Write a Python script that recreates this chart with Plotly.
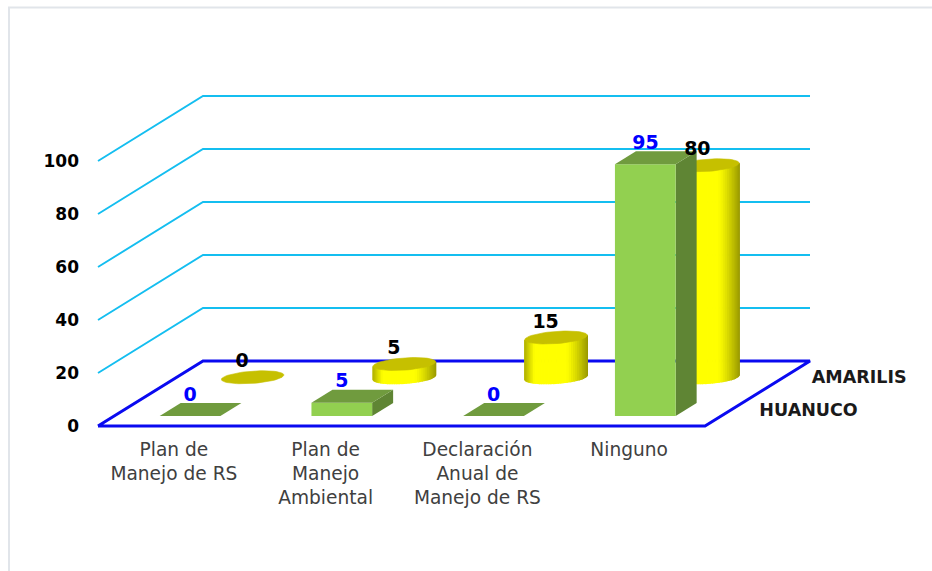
import math
import plotly.graph_objects as go

# ---- data ----
CATEGORIES = ["Plan de<br>Manejo de RS", "Plan de<br>Manejo<br>Ambiental",
              "Declaración<br>Anual de<br>Manejo de RS", "Ninguno"]
SERIES_NAMES = ["HUANUCO", "AMARILIS"]
HUANUCO = [0, 5, 0, 95]
AMARILIS = [0, 5, 15, 80]
TICKS = [0, 20, 40, 60, 80, 100]

# ---- oblique projection: category, depth (0 front..1 back), value -> axis units ----
W, H = 932, 571
PX_CAT = 151.75      # pixels per category
PX_VAL = 2.65        # pixels per value unit
SHEAR_X = 105 / PX_CAT
SHEAR_Y = 65 / PX_VAL
X0, Y0 = 98, 426     # pixel of (-0.5, 0, 0)


def proj(c, d, v):
    return c + d * SHEAR_X, v + d * SHEAR_Y


fig = go.Figure()


def poly(points, color, lw=0.0):
    xs = [p[0] for p in points] + [points[0][0]]
    ys = [p[1] for p in points] + [points[0][1]]
    fig.add_trace(go.Scatter(x=xs, y=ys, mode="lines", fill="toself", fillcolor=color,
                             line=dict(color=color, width=lw), hoverinfo="skip", showlegend=False))


def path(points, color, lw):
    fig.add_trace(go.Scatter(x=[p[0] for p in points], y=[p[1] for p in points], mode="lines",
                             line=dict(color=color, width=lw), hoverinfo="skip", showlegend=False))


# walls
for t in TICKS[1:]:
    path([proj(-0.5, 0, t), proj(-0.5, 1, t), proj(3.5, 1, t)], "#14BEF0", 1.9)
# floor
path([proj(-0.5, 0, 0), proj(-0.5, 1, 0), proj(3.5, 1, 0), proj(3.5, 0, 0), proj(-0.5, 0, 0)], "#0A0AF0", 3)

# cylinders (back row)
R_C, R_D = 0.194, 0.1
D_CYL = 0.75
N = 40


def yellow(u):
    if u < 0.14:
        k = 0.72 + 0.28 * (u / 0.14)
    elif u > 0.66:
        k = 1 - 0.40 * ((u - 0.66) / 0.34) ** 1.2
    else:
        k = 1
    return f"rgb({int(255 * k)},{int(255 * k)},0)"


for i, val in enumerate(AMARILIS):
    def rim(t, v):
        return proj(i + R_C * math.cos(t), D_CYL + R_D * math.sin(t), v)
    t_r = math.atan2(R_D * SHEAR_X, R_C)
    if val > 0:
        x_min = rim(t_r - math.pi, 0)[0]
        x_max = rim(t_r, 0)[0]
        for k in range(N):
            t1 = t_r - math.pi * k / N
            t2 = t_r - math.pi * (k + 1) / N
            u = ((rim(t1, 0)[0] + rim(t2, 0)[0]) / 2 - x_min) / (x_max - x_min)
            poly([rim(t1, 0), rim(t2, 0), rim(t2, val), rim(t1, val)], yellow(u), 1.2)
    poly([rim(2 * math.pi * k / 60, val) for k in range(60)], "#C6C000", 0.6)

# bars (front row)
BAR_C = 0.2
D0, D1 = 0.154, 0.354
for i, val in enumerate(HUANUCO):
    l, r = i - BAR_C, i + BAR_C
    if val > 0:
        poly([proj(r, D0, 0), proj(r, D1, 0), proj(r, D1, val), proj(r, D0, val)], "#5F8534")
        poly([proj(l, D0, 0), proj(r, D0, 0), proj(r, D0, val), proj(l, D0, val)], "#92D050")
    poly([proj(l, D0, val), proj(r, D0, val), proj(r, D1, val), proj(l, D1, val)], "#709B3E")

# value labels
for values, depth, lift, color in ((AMARILIS, 0.65, 8.0, "#000000"), (HUANUCO, 0.155, 7.6, "#0000FF")):
    pts = [proj(i, depth, v + lift) for i, v in enumerate(values)]
    fig.add_trace(go.Scatter(x=[p[0] for p in pts], y=[p[1] for p in pts], mode="text",
                             text=[str(v) for v in values], textposition="middle center",
                             textfont=dict(family="DejaVu Sans", size=19, color=color, weight="bold"),
                             hoverinfo="skip", showlegend=False))

# depth axis labels
for name, depth, drop in zip(SERIES_NAMES, (0.25, 0.75), (0.8, 0.4)):
    p = proj(3.685, depth, -drop)
    fig.add_trace(go.Scatter(x=[p[0]], y=[p[1]], mode="text", text=[name], textposition="middle right",
                             textfont=dict(family="DejaVu Sans", size=17.5, color="#1a1a1a", weight="bold"),
                             hoverinfo="skip", showlegend=False))

fig.update_layout(
    width=W, height=H, margin=dict(l=0, r=0, t=0, b=0),
    paper_bgcolor="white", plot_bgcolor="white", showlegend=False,
    xaxis=dict(range=[-0.5 - X0 / PX_CAT, -0.5 + (W - X0) / PX_CAT], showgrid=False, zeroline=False,
               tickmode="array", tickvals=list(range(len(CATEGORIES))), ticktext=CATEGORIES,
               anchor="free", position=(H - Y0) / H, ticks="", ticklabelstandoff=10,
               tickfont=dict(family="DejaVu Sans", size=18.6, color="#404040"), tickangle=0),
    yaxis=dict(range=[-(H - Y0) / PX_VAL, Y0 / PX_VAL], showgrid=False, zeroline=False,
               tickmode="array", tickvals=TICKS, anchor="free", position=X0 / W, ticks="",
               ticklabelstandoff=19,
               tickfont=dict(family="DejaVu Sans", size=17, color="#000000", weight="bold")),
    shapes=[dict(type="path", xref="paper", yref="paper",
                 path=f"M {9 / W} 0 L {9 / W} {1 - 7.5 / H} L 1 {1 - 7.5 / H}",
                 line=dict(color="#E1E5EA", width=2))],
)

fig.write_html("out.html", config={"displayModeBar": False},
               post_script="document.body.style.margin='0';")
